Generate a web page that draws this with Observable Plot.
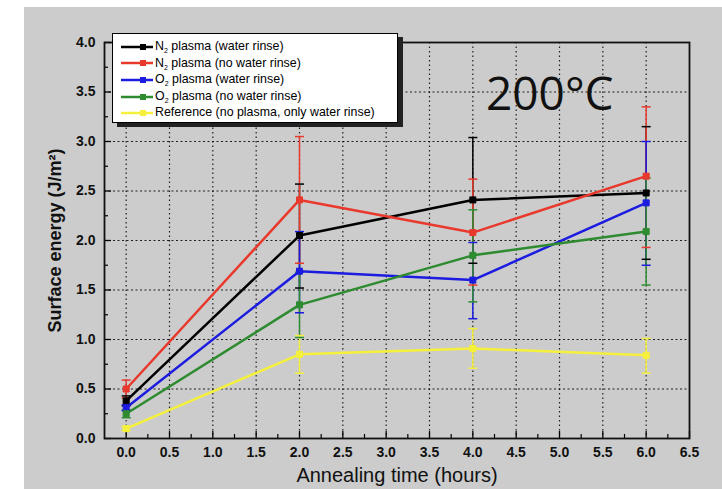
<!DOCTYPE html>
<html><head><meta charset="utf-8">
<script src="https://cdn.jsdelivr.net/npm/d3@7"></script>
<script src="https://cdn.jsdelivr.net/npm/@observablehq/plot@0.6"></script>
<style>
html,body{margin:0;padding:0;background:#fff;}
#wrap{position:relative;width:722px;height:489px;overflow:hidden;background:#fff;}
#chart{position:absolute;left:24px;top:7px;}
#legend{position:absolute;left:112px;top:33px;width:284px;height:88px;background:#fff;border:1px solid #000;box-shadow:5px 4px 0 #222;font-family:"Liberation Sans",Arial,sans-serif;font-size:12.4px;color:#000;}
.row{position:absolute;left:8px;height:16px;line-height:16px;white-space:nowrap;}
.row svg{vertical-align:middle;margin-right:2px;}
.row sub{font-size:7px;vertical-align:-3px;}
#temp{position:absolute;left:486px;top:69px;font-family:"Open Sans",sans-serif;font-size:46px;line-height:46px;color:#111;}
g[aria-label="x-axis label"] text{font-size:20px;font-weight:normal;fill:#111;}
g[aria-label="y-axis label"] text{font-size:18px;font-weight:bold;fill:#111;}
</style>
</head><body>
<div id="wrap">
<div id="chart"></div>
<div id="legend"></div>
<div id="temp">200°C</div>
</div>
<script>
// ---- data ----
const times = [0, 2, 4, 6];
const seriesKeys = ["N2 water", "N2 no water", "O2 water", "O2 no water", "Reference"];
const seriesColors = ["#000000", "#e8392c", "#1c1ce0", "#2e8b30", "#f4f03c"];
const legendHtml = [
  "N<sub>2</sub> plasma (water rinse)",
  "N<sub>2</sub> plasma (no water rinse)",
  "O<sub>2</sub> plasma (water rinse)",
  "O<sub>2</sub> plasma (no water rinse)",
  "Reference (no plasma, only water rinse)"
];
const n2WaterY  = [0.38, 2.05, 2.41, 2.48];
const n2WaterHi = [0.43, 2.57, 3.04, 3.15];
const n2WaterLo = [0.33, 1.52, 1.77, 1.81];
const n2NoWaterY  = [0.50, 2.41, 2.08, 2.65];
const n2NoWaterHi = [0.59, 3.05, 2.62, 3.35];
const n2NoWaterLo = [0.41, 1.77, 1.55, 1.93];
const o2WaterY  = [0.31, 1.69, 1.60, 2.38];
const o2WaterHi = [0.34, 2.09, 1.98, 3.00];
const o2WaterLo = [0.28, 1.27, 1.21, 1.75];
const o2NoWaterY  = [0.25, 1.35, 1.85, 2.09];
const o2NoWaterHi = [0.29, 1.68, 2.31, 2.63];
const o2NoWaterLo = [0.21, 1.02, 1.38, 1.55];
const refY  = [0.10, 0.85, 0.91, 0.84];
const refHi = [0.12, 1.04, 1.11, 1.01];
const refLo = [0.08, 0.66, 0.71, 0.66];
const xTickValues = [0, 0.5, 1, 1.5, 2, 2.5, 3, 3.5, 4, 4.5, 5, 5.5, 6, 6.5];
const xMinorValues = [0.25, 0.75, 1.25, 1.75, 2.25, 2.75, 3.25, 3.75, 4.25, 4.75, 5.25, 5.75, 6.25];
const xGridValues = [0, 0.5, 1, 1.5, 2, 2.5, 3, 3.5, 4, 4.5, 5, 5.5, 6];
const yTickValues = [0, 0.5, 1, 1.5, 2, 2.5, 3, 3.5, 4];
const yMinorValues = [0.25, 0.75, 1.25, 1.75, 2.25, 2.75, 3.25, 3.75];
const yGridValues = [0.5, 1, 1.5, 2, 2.5, 3, 3.5];

const seriesData = [
  [n2WaterY, n2WaterHi, n2WaterLo],
  [n2NoWaterY, n2NoWaterHi, n2NoWaterLo],
  [o2WaterY, o2WaterHi, o2WaterLo],
  [o2NoWaterY, o2NoWaterHi, o2NoWaterLo],
  [refY, refHi, refLo]
];
const rows = seriesData.flatMap(([ys, his, los], k) =>
  times.map((t, i) => ({series: seriesKeys[k], x: t, y: ys[i], hi: his[i], lo: los[i]})));

const capSymbol = {draw(ctx, size) { const w = Math.sqrt(size / Math.PI); ctx.moveTo(-w, 0); ctx.lineTo(w, 0); }};
const fmt = d3.format(".1f");

const chart = Plot.plot({
  width: 698, height: 482,
  marginLeft: 80, marginRight: 33, marginTop: 35, marginBottom: 51,
  style: {background: "#cccccc", fontFamily: "'Liberation Sans', Arial, sans-serif", overflow: "visible"},
  x: {domain: [-0.25, 6.5]},
  y: {domain: [0, 4]},
  color: {domain: seriesKeys, range: seriesColors},
  marks: [
    Plot.gridX(xGridValues, {stroke: "#000", strokeOpacity: 0.85, strokeWidth: 1.2, strokeDasharray: "1.5,3"}),
    Plot.gridY(yGridValues, {stroke: "#000", strokeOpacity: 0.85, strokeWidth: 1.2, strokeDasharray: "2,2.5"}),
    Plot.axisX(xTickValues, {tickSize: -7, tickPadding: 16, tickFormat: fmt, fontSize: 14, fontWeight: "bold", fill: "#111", stroke: "#000", strokeWidth: 1.3,
      label: "Annealing time (hours)", labelAnchor: "center", labelOffset: 43, labelArrow: "none"}),
    Plot.axisX(xMinorValues, {tickSize: -4, tickFormat: () => "", label: null, stroke: "#000", strokeWidth: 1.2}),
    Plot.axisY(yTickValues, {tickSize: -7, tickPadding: 16, tickFormat: fmt, fontSize: 14, fontWeight: "bold", fill: "#111", stroke: "#000", strokeWidth: 1.3,
      label: "Surface energy (J/m²)", labelAnchor: "center", labelOffset: 56, labelArrow: "none"}),
    Plot.axisY(yMinorValues, {tickSize: -4, tickFormat: () => "", label: null, stroke: "#000", strokeWidth: 1.2}),
    Plot.frame({stroke: "#111", strokeWidth: 1.8}),
    Plot.ruleX(rows, {x: "x", y1: "lo", y2: "hi", stroke: "series", strokeWidth: 1.5}),
    Plot.dot(rows, {x: "x", y: "hi", symbol: capSymbol, r: 4.5, stroke: "series", strokeWidth: 1.5}),
    Plot.dot(rows, {x: "x", y: "lo", symbol: capSymbol, r: 4.5, stroke: "series", strokeWidth: 1.5}),
    Plot.line(rows, {x: "x", y: "y", z: "series", stroke: "series", strokeWidth: 2.5}),
    Plot.dot(rows, {x: "x", y: "y", symbol: "square", r: 3.4, fill: "series", stroke: "series", strokeWidth: 1})
  ]
});
document.getElementById("chart").appendChild(chart);

const legend = document.getElementById("legend");
legendHtml.forEach((html, i) => {
  const row = document.createElement("div");
  row.className = "row";
  row.style.top = (4 + i * 16.6) + "px";
  const c = seriesColors[i];
  row.innerHTML = `<svg width="32" height="10"><line x1="0" y1="5" x2="32" y2="5" stroke="${c}" stroke-width="2.5"/><rect x="19" y="2" width="6" height="6" fill="${c}"/></svg>${html}`;
  legend.appendChild(row);
});
</script>
</body></html>
